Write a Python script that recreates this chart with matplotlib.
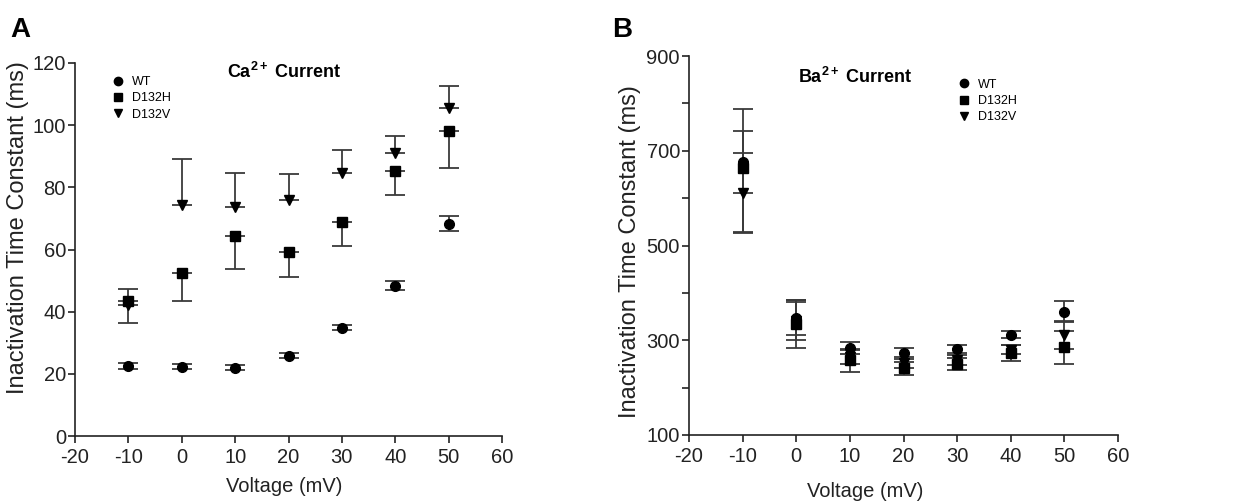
import numpy as np
import matplotlib
matplotlib.use("Agg")
import matplotlib.pyplot as plt
from matplotlib.lines import Line2D

plt.rcParams['font.family'] = ['Liberation Sans', 'DejaVu Sans']
plt.rcParams['axes.unicode_minus'] = False
plt.rcParams['mathtext.fontset'] = 'custom'
plt.rcParams['mathtext.rm'] = 'Liberation Sans'
plt.rcParams['mathtext.bf'] = 'Liberation Sans:bold'

voltage = [-10, 0, 10, 20, 30, 40, 50]

# Panel A: Ca2+ current
ca_wt = [22.5, 22.3, 21.9, 25.8, 34.9, 48.4, 68.3]
ca_wt_err = [1.0, 0.8, 0.8, 0.8, 0.8, 1.5, 2.5]
ca_h = [43.3, 52.6, 64.5, 59.1, 68.8, 85.3, 98.2]
ca_h_err = [6.8, 9.3, 10.7, 8.1, 7.6, 7.9, 12.0]      # drawn below only
ca_v = [42.2, 74.4, 73.8, 76.0, 84.6, 91.0, 105.5]
ca_v_err = [5.2, 14.7, 10.8, 8.3, 7.3, 5.6, 7.0]      # drawn above only

# Panel B: Ba2+ current
ba_wt = [676, 348, 284, 274, 282, 312, 360]
ba_wt_lo = [66, 37, 12, 9, 8, 8, 22]
ba_wt_hi = [66, 37, 12, 9, 8, 8, 22]
ba_h = [663, 335, 258, 241, 250, 274, 285]
ba_h_lo = [135, 51, 24, 14, 13, 17, 35]
ba_h_hi = [125, 51, 24, 14, 13, 17, 35]
ba_v = [611, 340, 265, 251, 258, 280, 311]
ba_v_lo = [84, 40, 15, 10, 10, 10, 30]
ba_v_hi = [84, 40, 15, 10, 10, 10, 30]

labels = ['WT', 'D132H', 'D132V']
markers = ['o', 's', 'v']
ecol = '#3a3a3a'
tcol = '#222222'

fig = plt.figure(figsize=(12.37, 5.04), dpi=100)
axA = fig.add_axes([75 / 1237, 1 - 436 / 504, 427 / 1237, 373 / 504])
axB = fig.add_axes([689 / 1237, 1 - 435 / 504, 429 / 1237, 379 / 504])

zero = [0] * len(voltage)
ekw = dict(ls='none', ecolor=ecol, elinewidth=1.3, capsize=7, capthick=1.3,
           color='black', markersize=7)

handles = [Line2D([], [], ls='none', marker=m, color='black', markersize=6)
           for m in markers]

# Panel A
axA.errorbar(voltage, ca_wt, yerr=ca_wt_err, marker='o', **ekw)
axA.errorbar(voltage, ca_h, yerr=[ca_h_err, zero], marker='s', **ekw)
axA.errorbar(voltage, ca_v, yerr=[zero, ca_v_err], marker='v', **ekw)
axA.set_ylim(0, 120)
axA.set_yticks(np.arange(0, 121, 20))
axA.text(0.49, 0.975, r'$\mathbf{Ca^{2+}}$ Current', transform=axA.transAxes,
         ha='center', va='center', fontsize=13, fontweight='bold')
axA.legend(handles, labels, loc='upper left', bbox_to_anchor=(0.06, 0.995),
           frameon=False, fontsize=9, handletextpad=0.6, labelspacing=0.35,
           handlelength=1.0)

# Panel B
axB.errorbar(voltage, ba_wt, yerr=[ba_wt_lo, ba_wt_hi], marker='o', **ekw)
axB.errorbar(voltage, ba_h, yerr=[ba_h_lo, ba_h_hi], marker='s', **ekw)
axB.errorbar(voltage, ba_v, yerr=[ba_v_lo, ba_v_hi], marker='v', **ekw)
axB.set_ylim(100, 900)
axB.set_yticks(np.arange(100, 901, 100))
axB.set_yticklabels([str(v) if v % 200 == 100 else '' for v in range(100, 901, 100)])
axB.text(0.387, 0.945, r'$\mathbf{Ba^{2+}}$ Current', transform=axB.transAxes,
         ha='center', va='center', fontsize=13, fontweight='bold')
axB.legend(handles, labels, loc='upper left', bbox_to_anchor=(0.6, 0.97),
           frameon=False, fontsize=9, handletextpad=0.6, labelspacing=0.35,
           handlelength=1.0)

for ax in (axA, axB):
    ax.set_xlim(-20, 60)
    ax.set_xticks(np.arange(-20, 61, 10))
    for s in ('top', 'right'):
        ax.spines[s].set_visible(False)
    for s in ('left', 'bottom'):
        ax.spines[s].set_linewidth(1.2)
        ax.spines[s].set_color('#222222')
    ax.tick_params(direction='out', length=5, width=1.2, labelsize=14.5,
                   labelcolor=tcol, color='#222222')
    ax.tick_params(axis='y', pad=1.5)
    ax.set_ylabel('Inactivation Time Constant (ms)', fontsize=17, color=tcol)
    ax.set_xlabel('Voltage (mV)', fontsize=14.5, color=tcol)

axA.yaxis.set_label_coords(-0.108, 0.558)
axB.yaxis.set_label_coords(-0.112, 0.483)
axA.xaxis.set_label_coords(0.49, -0.11)
axB.xaxis.set_label_coords(0.41, -0.124)

fig.text(10 / 1237, 1 - 30 / 504, 'A', fontsize=20, fontweight='bold', va='center')
fig.text(612 / 1237, 1 - 30 / 504, 'B', fontsize=20, fontweight='bold', va='center')

fig.savefig('out.png', dpi=100)
